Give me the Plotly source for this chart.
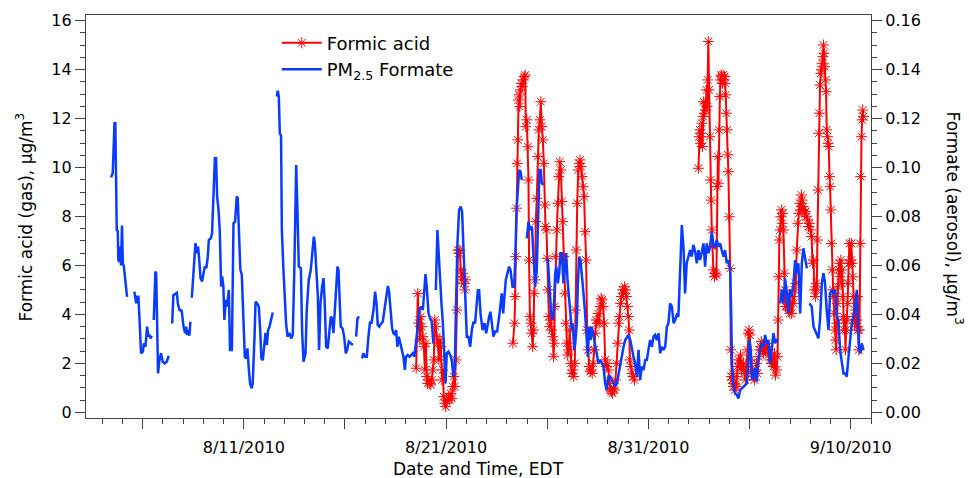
import pandas as pd
import plotly.graph_objects as go

# Time axis: elapsed days since 2010-08-01 00:00 EDT
BASE = pd.Timestamp("2010-08-01 00:00")

# PM2.5 formate (aerosol), ug/m3 -- None marks breaks in the record
blue_days = [
    3.44, 3.52, 3.61, 3.65, 3.72, 3.77, 3.80, 3.85, 3.90, 3.93,
    3.98, 4.02, 4.07, 4.15, 4.23, 4.40, 4.59, 4.68, 4.73, 4.79,
    4.84, 4.92, 5.01, 5.06, 5.14, 5.22, 5.29, 5.34, 5.39, 5.45,
    5.50, 5.55, 5.63, 5.67, 5.71, 5.76, 5.83, 5.91, 5.99, 6.08,
    6.19, 6.29, 6.38, 6.46, 6.52, 6.60, 6.69, 6.74, 6.82, 6.93,
    7.02, 7.10, 7.15, 7.20, 7.26, 7.31, 7.36, 7.40, 7.43, 7.51,
    7.61, 7.68, 7.74, 7.81, 7.86, 7.94, 8.00, 8.07, 8.15, 8.22,
    8.27, 8.37, 8.43, 8.50, 8.57, 8.63, 8.68, 8.75, 8.81, 8.88,
    8.93, 8.99, 9.04, 9.11, 9.17, 9.26, 9.32, 9.41, 9.49, 9.57,
    9.65, 9.70, 9.75, 9.83, 9.90, 9.98, 10.05, 10.11, 10.18, 10.25,
    10.31, 10.39, 10.44, 10.53, 10.58, 10.66, 10.74, 10.81, 10.87, 10.94,
    11.00, 11.07, 11.14, 11.20, 11.27, 11.35, 11.43, 11.55, 11.63, 11.68,
    11.73, 11.78, 11.84, 11.88, 11.96, 12.04, 12.09, 12.16, 12.26, 12.34,
    12.42, 12.50, 12.59, 12.65, 12.72, 12.82, 12.88, 12.95, 13.05, 13.11,
    13.21, 13.31, 13.39, 13.46, 13.51, 13.57, 13.66, 13.72, 13.79, 13.87,
    13.94, 14.00, 14.07, 14.15, 14.23, 14.30, 14.36, 14.43, 14.51, 14.58,
    14.63, 14.68, 14.73, 14.79, 14.88, 14.96, 15.04, 15.11, 15.19, 15.29,
    15.39, 15.47, 15.55, 15.62, 15.70, 15.78, 15.85, 15.91, 16.00, 16.08,
    16.16, 16.24, 16.31, 16.41, 16.49, 16.56, 16.62, 16.70, 16.79, 16.87,
    16.95, 17.03, 17.12, 17.18, 17.26, 17.33, 17.40, 17.48, 17.53, 17.59,
    17.66, 17.73, 17.81, 17.89, 17.96, 18.02, 18.10, 18.19, 18.27, 18.35,
    18.43, 18.52, 18.60, 18.68, 18.76, 18.85, 18.91, 18.98, 19.04, 19.13,
    19.21, 19.29, 19.37, 19.43, 19.49, 19.57, 19.64, 19.70, 19.77, 19.84,
    19.90, 19.97, 20.03, 20.11, 20.20, 20.28, 20.36, 20.43, 20.49, 20.56,
    20.64, 20.72, 20.79, 20.86, 20.94, 21.02, 21.10, 21.19, 21.27, 21.35,
    21.43, 21.51, 21.57, 21.63, 21.70, 21.80, 21.90, 21.98, 22.06, 22.13,
    22.19, 22.26, 22.34, 22.42, 22.52, 22.62, 22.69, 22.75, 22.82, 22.88,
    22.95, 23.03, 23.11, 23.18, 23.28, 23.36, 23.41, 23.48, 23.54, 23.61,
    23.68, 23.74, 23.86, 23.99, 24.07, 24.15, 24.24, 24.32, 24.40, 24.48,
    24.56, 24.61, 24.68, 24.73, 24.81, 24.87, 24.93, 25.03, 25.09, 25.19,
    25.26, 25.32, 25.39, 25.45, 25.52, 25.59, 25.65, 25.72, 25.80, 25.88,
    25.93, 26.00, 26.08, 26.16, 26.21, 26.26, 26.33, 26.38, 26.46, 26.51,
    26.58, 26.64, 26.71, 26.79, 26.87, 26.95, 27.00, 27.07, 27.14, 27.20,
    27.28, 27.37, 27.45, 27.53, 27.61, 27.70, 27.78, 27.86, 27.94, 28.02,
    28.11, 28.19, 28.27, 28.35, 28.44, 28.52, 28.60, 28.68, 28.77, 28.85,
    28.93, 29.01, 29.10, 29.18, 29.26, 29.34, 29.43, 29.51, 29.59, 29.67,
    29.76, 29.84, 29.92, 30.00, 30.08, 30.17, 30.25, 30.33, 30.41, 30.50,
    30.58, 30.66, 30.74, 30.83, 30.91, 30.99, 31.07, 31.16, 31.24, 31.32,
    31.40, 31.48, 31.56, 31.65, 31.73, 31.81, 31.89, 31.98, 32.06, 32.14,
    32.22, 32.31, 32.39, 32.47, 32.55, 32.64, 32.72, 32.80, 32.88, 32.97,
    33.05, 33.13, 33.21, 33.29, 33.38, 33.46, 33.54, 33.62, 33.71, 33.79,
    33.87, 33.95, 34.04, 34.09, 34.13, 34.20, 34.28, 34.37, 34.45, 34.53,
    34.61, 34.69, 34.78, 34.86, 34.94, 34.99, 35.06, 35.12, 35.19, 35.27,
    35.35, 35.44, 35.52, 35.60, 35.68, 35.77, 35.85, 35.93, 36.01, 36.10,
    36.18, 36.26, 36.34, 36.43, 36.47, 36.51, 36.59, 36.67, 36.75, 36.84,
    36.92, 37.00, 37.08, 37.17, 37.25, 37.33, 37.41, 37.50, 37.58, 37.66,
    37.74, 37.83, 37.90, 37.96, 38.07, 38.16, 38.24, 38.32, 38.40, 38.48,
    38.57, 38.65, 38.73, 38.81, 38.90, 38.98, 39.06, 39.14, 39.23, 39.31,
    39.39, 39.47, 39.56, 39.64, 39.72, 39.80, 39.89, 39.97, 40.05, 40.13,
    40.22, 40.30, 40.35, 40.41, 40.48, 40.54, 40.63,
]
blue_vals = [
    .0960, .0977, .1181, .1181, .0745, .0740, .0622, .0615, .0677, .0600,
    .0763, .0610, .0597, .0527, .0472, None, .0493, .0445, .0472, .0472,
    .0391, .0241, .0248, .0282, .0268, .0350, .0309, .0316, .0302, .0313,
    None, .0377, .0575, .0568, .0363, .0159, .0213, .0241, .0207, .0200,
    .0207, .0231, None, .0363, .0479, .0483, .0488, .0445, .0418, .0415,
    .0350, .0323, .0350, .0316, .0336, .0313, .0370, None, .0468, .0582,
    .0691, .0650, .0677, .0610, .0548, .0535, .0562, .0596, .0589, .0636,
    .0704, .0711, .0731, .0854, .1038, .1038, .0882, .0827, .0745, .0514,
    .0555, .0514, .0377, .0459, .0432, .0500, .0255, .0255, .0772, .0779,
    .0882, .0875, .0786, .0582, .0562, .0363, .0227, .0220, .0261, .0173,
    .0118, .0098, .0118, .0309, .0452, .0445, .0432, .0336, .0220, .0213,
    .0282, .0323, .0275, .0336, .0350, .0377, .0408, None, .1290, .1314,
    .1290, .1140, .1130, .0745, .0582, .0445, .0363, .0309, .0323, .0302,
    .0316, .0595, .1010, .0827, .0595, .0589, .0336, .0207, .0241, .0418,
    .0541, .0582, .0670, .0718, .0691, .0582, .0473, .0255, .0445, .0513,
    .0548, .0445, .0268, .0261, .0336, .0391, .0384, .0323, .0432, .0513,
    .0595, .0582, .0459, .0350, .0343, .0309, .0241, .0255, .0289, .0282,
    .0275, None, .0309, .0384, .0391, None, .0220, .0241, .0227, .0227,
    .0309, .0370, .0363, .0418, .0493, .0445, .0357, .0350, .0363, .0370,
    .0418, .0473, .0516, .0493, .0418, .0343, .0323, .0316, .0336, .0268,
    .0309, .0282, .0261, .0227, .0173, .0227, .0234, .0227, .0234, .0241,
    .0227, .0309, .0350, .0418, .0432, .0418, .0513, .0565, .0513, .0405,
    .0384, .0370, .0282, None, .0500, .0745, .0636, .0527, .0445, .0363,
    .0241, .0118, .0241, .0248, .0234, .0213, .0145, .0186, .0445, .0691,
    .0827, .0841, .0820, .0636, .0445, .0309, .0309, .0268, .0336, .0370,
    .0363, .0445, .0499, .0499, .0404, .0336, .0364, .0323, .0364, .0391,
    .0411, .0364, .0309, .0330, .0330, .0391, .0459, .0486, .0404, .0486,
    .0541, .0568, .0595, .0582, .0513, .0513, .0609, .0827, .0922, .0990,
    .0983, .0949, None, .0711, .0779, .0745, .0759, .0636, .0513, .0582,
    .0908, .0990, .0990, .0936, .0929, None, .0622, .0622, .0541, .0404,
    .0377, .0418, .0568, .0595, .0527, .0568, .0650, .0650, .0527, .0609,
    .0650, .0541, .0473, .0377, .0336, .0364, .0255, .0282, .0364, .0527,
    .0636, .0622, .0568, .0486, .0404, .0309, .0227, .0350, .0295, .0350,
    .0309, .0282, .0227, .0200, .0214, .0200, .0187, .0118, .0091, .0146,
    .0146, .0132, .0118, .0105, .0118, .0159, .0200, .0241, .0268, .0295,
    .0309, .0316, .0295, .0255, .0227, .0200, .0146, .0255, .0132, .0187,
    .0173, .0214, .0214, .0255, .0295, .0268, .0309, .0316, .0295, .0323,
    .0241, .0268, .0255, .0268, .0350, .0364, .0445, .0432, .0364, .0377,
    .0398, .0391, .0609, .0765, .0677, .0486, .0609, .0636, .0663, .0636,
    .0684, .0656, .0609, .0663, .0622, .0656, .0690, .0595, .0690, .0650,
    .0677, .0738, .0690, .0670, .0704, .0677, .0690, .0663, .0636, .0663,
    .0609, .0622, .0582, .0404, .0200, .0105, .0078, .0071, .0057, .0091,
    .0098, .0105, .0112, .0118, .0200, .0295, .0255, .0132, .0146, .0180,
    .0125, .0214, .0255, .0282, .0268, .0316, .0282, .0295, .0200, .0282,
    .0323, .0282, .0295, .0295, None, .0445, .0500, .0445, .0547, .0486,
    .0404, .0500, .0473, .0527, .0622, .0568, .0609, .0404, .0609, .0670,
    .0636, .0588, None, .0445, .0432, .0350, .0336, .0323, .0302, .0377,
    .0527, .0568, .0527, .0418, .0336, .0486, .0500, .0486, .0500, .0391,
    .0377, .0255, .0200, .0159, .0159, .0146, .0227, .0309, .0364, .0391,
    .0432, .0500, .0377, .0255, .0241, .0282, .0255,
]

# Gas-phase formic acid, ug/m3 -- None marks breaks in the record
red_days = [
    18.52, 18.60, 18.65, 18.70, 18.75, 18.80, 18.85, 18.90, 18.95, 19.00,
    19.04, 19.09, 19.14, 19.19, 19.24, 19.29, 19.34, 19.39, 19.44, 19.49,
    19.54, 19.59, 19.64, 19.69, 19.74, 19.79, 19.84, 19.88, 19.93, 19.98,
    20.03, 20.08, 20.13, 20.18, 20.23, 20.28, 20.33, 20.38, 20.43, 20.48,
    20.53, 20.58, 20.63, 20.68, 20.72, 20.77, 20.82, 20.87, 20.92, 20.97,
    21.50,
    23.30, 23.38, 23.41, 23.44, 23.48, 23.51, 23.54, 23.58, 23.61, 23.64,
    23.67, 23.71, 23.76, 23.81, 23.86, 23.91, 23.94, 23.99, 24.04, 24.07,
    24.10, 24.14, 24.19, 24.23, 24.28, 24.32, 24.35, 24.40, 24.43, 24.48,
    24.53, 24.58, 24.63, 24.68, 24.73, 24.78, 24.83, 24.88, 24.91, 24.96,
    24.99, 25.03, 25.08, 25.12, 25.17, 25.22, 25.27, 25.31, 25.34, 25.37,
    25.42, 25.47, 25.52, 25.57, 25.62, 25.67, 25.72, 25.77, 25.82, 25.87,
    25.92, 25.97, 26.01, 26.06, 26.11, 26.16, 26.21, 26.26, 26.31, 26.36,
    26.39, 26.43, 26.48, 26.53, 26.58, 26.62, 26.67, 26.72, 26.77, 26.82,
    26.87, 26.92, 26.97, 27.02, 27.07, 27.12, 27.17, 27.22, 27.27, 27.32,
    27.37, 27.42, 27.46, 27.51, 27.56, 27.61, 27.66, 27.71, 27.76, 27.81,
    27.86, 27.91, 27.96, 28.02, 28.07, 28.12, 28.17, 28.22, 28.27, 28.32,
    28.37, 28.42, 28.47, 28.52, 28.57, 28.62, 28.67, 28.72, 28.77, 28.82,
    28.87, 28.91, 28.96, 29.01, 29.05, 29.08, 29.13, 29.18, 29.24, 29.31,
    30.50,
    32.47, 32.50, 32.54, 32.57, 32.60, 32.64, 32.67, 32.70, 32.73, 32.77,
    32.80, 32.83, 32.87, 32.90, 32.93, 32.96, 33.00, 33.03, 33.06, 33.10,
    33.13, 33.16, 33.21, 33.26, 33.31, 33.36, 33.39, 33.43, 33.46, 33.49,
    33.53, 33.56, 33.59, 33.62, 33.66, 33.69, 33.72, 33.76, 33.79, 33.82,
    33.85, 33.89, 33.92, 33.95, 33.99, 34.04, 34.07, 34.10, 34.13, 34.17,
    34.20, 34.23, 34.27, 34.30, 34.33, 34.37, 34.40, 34.45, 34.50, 34.55,
    34.60, 34.65, 34.69, 34.74, 34.79, 34.84, 34.89, 34.94, 34.97, 35.01,
    35.04, 35.09, 35.14, 35.19, 35.24, 35.29, 35.34, 35.39, 35.44, 35.49,
    35.54, 35.58, 35.63, 35.68, 35.73, 35.78, 35.83, 35.88, 35.93, 35.98,
    36.03, 36.08, 36.13, 36.18, 36.23, 36.28, 36.33, 36.38, 36.41, 36.44,
    36.47, 36.51, 36.54, 36.57, 36.61, 36.64, 36.67, 36.71, 36.74, 36.77,
    36.80, 36.84, 36.89, 36.94, 36.99, 37.03, 37.08, 37.13, 37.18, 37.23,
    37.28, 37.33, 37.38, 37.43, 37.48, 37.53, 37.56, 37.60, 37.63, 37.66,
    37.71, 37.76, 37.81, 37.86, 37.91, 37.96, 38.01, 38.06, 38.11, 38.16,
    38.20, 38.25, 38.29, 38.32, 38.35, 38.39, 38.42, 38.45, 38.48, 38.52,
    38.55, 38.58, 38.62, 38.65, 38.68, 38.72, 38.75, 38.78, 38.81, 38.85,
    38.88, 38.91, 38.95, 38.98, 39.01, 39.05, 39.08, 39.11, 39.14, 39.18,
    39.21, 39.24, 39.28, 39.31, 39.34, 39.37, 39.41, 39.44, 39.47, 39.51,
    39.54, 39.57, 39.61, 39.64, 39.67, 39.70, 39.74, 39.77, 39.80, 39.84,
    39.87, 39.90, 39.93, 39.97, 40.00, 40.03, 40.07, 40.10, 40.13, 40.17,
    40.20, 40.23, 40.26, 40.30, 40.33, 40.36, 40.40, 40.43, 40.46, 40.49,
    40.53, 40.56, 40.59, 40.63,
]
red_vals = [
    1.80, 4.86, 3.64, 2.96, 3.91, 3.50, 3.09, 2.68, 1.73, 2.82,
    1.46, 1.18, 1.32, 1.18, 1.12, 1.32, 1.73, 2.14, 3.77, 3.50,
    3.09, 2.82, 2.14, 2.96, 2.68, 1.32, 1.73, 0.64, 0.37, 0.23,
    0.50, 0.57, 0.64, 0.50, 0.77, 0.57, 1.05, 1.46, 1.05, 2.14,
    4.18, 6.63, 6.50, 6.63, 5.82, 5.41, 5.68, 5.27, 5.00, 5.41,
    None,
    2.82, 3.64, 4.73, 6.36, 8.34, 10.17, 11.13, 12.76, 12.97, 12.49,
    13.17, 13.44, 13.31, 13.58, 13.72, 13.78, 11.67, 11.95, 10.85, 9.49,
    6.22, 3.91, 3.64, 3.23, 2.68, 3.36, 4.86, 5.41, 7.79, 8.74,
    10.45, 11.54, 11.95, 12.69, 11.67, 11.13, 10.17, 8.47, 7.59, 7.45,
    6.29, 5.00, 3.91, 3.50, 3.77, 3.36, 3.09, 2.27, 2.82, 4.32,
    6.36, 7.45, 8.54, 9.63, 10.24, 9.90, 8.61, 7.79, 6.36, 4.86,
    3.64, 2.82, 2.34, 2.55, 3.36, 2.00, 1.59, 1.73, 1.46, 2.00,
    4.18, 6.63, 8.54, 9.90, 10.17, 10.31, 10.04, 9.63, 9.22, 8.81,
    7.38, 6.22, 3.36, 2.55, 1.87, 1.66, 1.73, 1.59, 2.00, 2.55,
    3.23, 3.77, 3.64, 4.04, 3.64, 4.32, 4.66, 4.59, 4.32, 3.64,
    2.14, 1.87, 2.00, 1.73, 1.18, 0.91, 0.84, 0.78, 0.98, 0.91,
    1.32, 2.00, 2.82, 3.64, 3.91, 4.45, 4.73, 5.00, 4.86, 5.13,
    5.00, 4.73, 4.32, 3.91, 3.36, 2.14, 1.87, 1.59, 1.46, 1.32,
    None,
    9.97, 11.26, 11.54, 10.99, 11.40, 11.81, 10.86, 12.08, 12.69, 12.22,
    12.63, 12.35, 13.17, 12.49, 13.58, 15.15, 13.17, 11.26, 9.49, 8.67,
    7.45, 6.77, 5.82, 5.54, 5.68, 5.61, 9.22, 10.45, 9.36, 11.54,
    12.90, 13.58, 13.78, 13.72, 13.44, 13.78, 13.58, 13.72, 13.44, 12.97,
    12.22, 11.54, 10.52, 9.83, 7.99, 5.88, 2.55, 1.46, 1.32, 1.59,
    1.05, 1.18, 0.91, 1.12, 1.05, 1.46, 1.87, 2.14, 2.00, 2.34,
    1.73, 1.87, 2.00, 1.59, 1.32, 1.87, 2.55, 3.23, 3.36, 3.16,
    2.14, 1.59, 1.73, 1.46, 1.32, 1.73, 2.00, 1.59, 2.27, 2.55,
    2.68, 2.89, 2.55, 2.41, 2.68, 2.55, 2.82, 2.55, 2.34, 2.55,
    2.14, 2.00, 2.14, 1.87, 2.41, 1.52, 1.73, 2.27, 3.77, 5.54,
    7.04, 7.45, 7.99, 8.27, 7.72, 8.13, 7.45, 5.68, 5.00, 4.32,
    4.73, 4.32, 4.73, 4.18, 4.04, 4.45, 4.04, 4.73, 4.45, 5.00,
    5.27, 6.63, 7.72, 8.13, 8.54, 8.27, 8.88, 8.67, 8.27, 8.40,
    8.13, 8.20, 7.99, 7.86, 7.59, 7.72, 7.45, 7.18, 6.09, 6.22,
    5.00, 4.73, 5.27, 5.00, 7.04, 9.08, 11.40, 12.22, 13.37, 13.85,
    13.99, 14.26, 14.53, 15.01, 14.67, 14.12, 13.58, 13.10, 11.54, 11.26,
    10.99, 10.86, 9.63, 9.22, 8.27, 6.90, 5.82, 5.00, 4.73, 4.04,
    3.36, 2.95, 2.55, 3.64, 4.45, 5.13, 5.82, 6.09, 5.54, 6.22,
    5.27, 5.82, 4.73, 3.91, 3.36, 3.77, 2.55, 3.36, 3.77, 4.45,
    5.27, 6.09, 6.90, 6.09, 6.22, 6.90, 6.09, 5.54, 4.73, 3.91,
    3.64, 4.18, 3.50, 3.77, 4.73, 3.36, 2.55, 3.36, 6.90, 9.63,
    11.26, 11.95, 12.35, 12.08,
]

# Date ticks every 5 days, labelled every 10
tick_days = [5, 10, 15, 20, 25, 30, 35, 40]
tick_labels = ["", "8/11/2010", "", "8/21/2010", "", "8/31/2010", "", "9/10/2010"]

x_range_days = [2.2, 41.0]
gas_range = [-0.233, 16.233]
aerosol_range = [-0.00233, 0.16233]


def to_time(days):
    return [BASE + pd.Timedelta(days=d) for d in days]


FONT = "DejaVu Sans"
AXIS_COLOR = "#444444"
RED = "#ff0000"
BLUE = "#0a3cff"

fig = go.Figure()
fig.add_trace(go.Scatter(
    x=to_time(red_days), y=red_vals, name="Formic acid",
    mode="lines+markers", connectgaps=False, yaxis="y",
    line=dict(color=RED, width=2),
    marker=dict(symbol="asterisk-open", size=9, color=RED,
                line=dict(color="rgba(255,0,0,0.85)", width=1)),
))
fig.add_trace(go.Scatter(
    x=to_time(blue_days), y=blue_vals, name="PM<sub>2.5</sub> Formate",
    mode="lines", connectgaps=False, yaxis="y2",
    line=dict(color=BLUE, width=2.5),
))

common_axis = dict(
    showgrid=False, zeroline=False, showline=True,
    linecolor=AXIS_COLOR, linewidth=1.3,
    ticks="outside", tickcolor=AXIS_COLOR, tickwidth=1.3,
    tickfont=dict(family=FONT, size=16, color="#000000"),
)

fig.update_layout(
    width=969, height=478, autosize=False,
    margin=dict(l=86, r=98, t=15, b=60, pad=0),
    paper_bgcolor="white", plot_bgcolor="white",
    font=dict(family=FONT, color="#000000"),
    showlegend=True,
    legend=dict(
        x=0.243, y=0.976, xanchor="left", yanchor="top",
        bgcolor="rgba(0,0,0,0)", borderwidth=0,
        font=dict(family=FONT, size=18, color="#000000"),
        tracegroupgap=0, itemwidth=40,
    ),
    xaxis=dict(
        **common_axis,
        type="date",
        range=to_time(x_range_days),
        mirror=True,
        tickmode="array",
        tickvals=to_time(tick_days),
        ticktext=tick_labels,
        ticklen=10,
        ticklabelstandoff=5,
        minor=dict(ticks="outside", ticklen=5, tickcolor=AXIS_COLOR,
                   tickwidth=1.3, dtick=86400000, tick0="2010-08-01"),
    ),
    yaxis=dict(
        **common_axis,
        range=gas_range,
        tickmode="linear", tick0=0, dtick=2,
        ticklen=10,
        minor=dict(ticks="outside", ticklen=5, tickcolor=AXIS_COLOR,
                   tickwidth=1.3, dtick=0.5, tick0=0),
    ),
    yaxis2=dict(
        **common_axis,
        range=aerosol_range,
        overlaying="y", side="right",
        tickmode="linear", tick0=0, dtick=0.02, tickformat=".2f",
        ticklen=10,
        minor=dict(ticks="outside", ticklen=5, tickcolor=AXIS_COLOR,
                   tickwidth=1.3, dtick=0.005, tick0=0),
    ),
    annotations=[
        dict(text="Formic acid (gas), µg/m<sup>3</sup>",
             xref="paper", yref="paper", x=-0.079, y=0.5,
             xanchor="center", yanchor="middle", textangle=-90,
             showarrow=False, font=dict(family=FONT, size=17)),
        dict(text="Formate (aerosol), µg/m<sup>3</sup>",
             xref="paper", yref="paper", x=1.107, y=0.495,
             xanchor="center", yanchor="middle", textangle=90,
             showarrow=False, font=dict(family=FONT, size=17)),
        dict(text="Date and Time, EDT",
             xref="paper", yref="paper", x=0.5, y=-0.127,
             xanchor="center", yanchor="middle",
             showarrow=False, font=dict(family=FONT, size=17)),
    ],
)

fig.write_html("out.html", include_plotlyjs=True,
               config={"displayModeBar": False})
